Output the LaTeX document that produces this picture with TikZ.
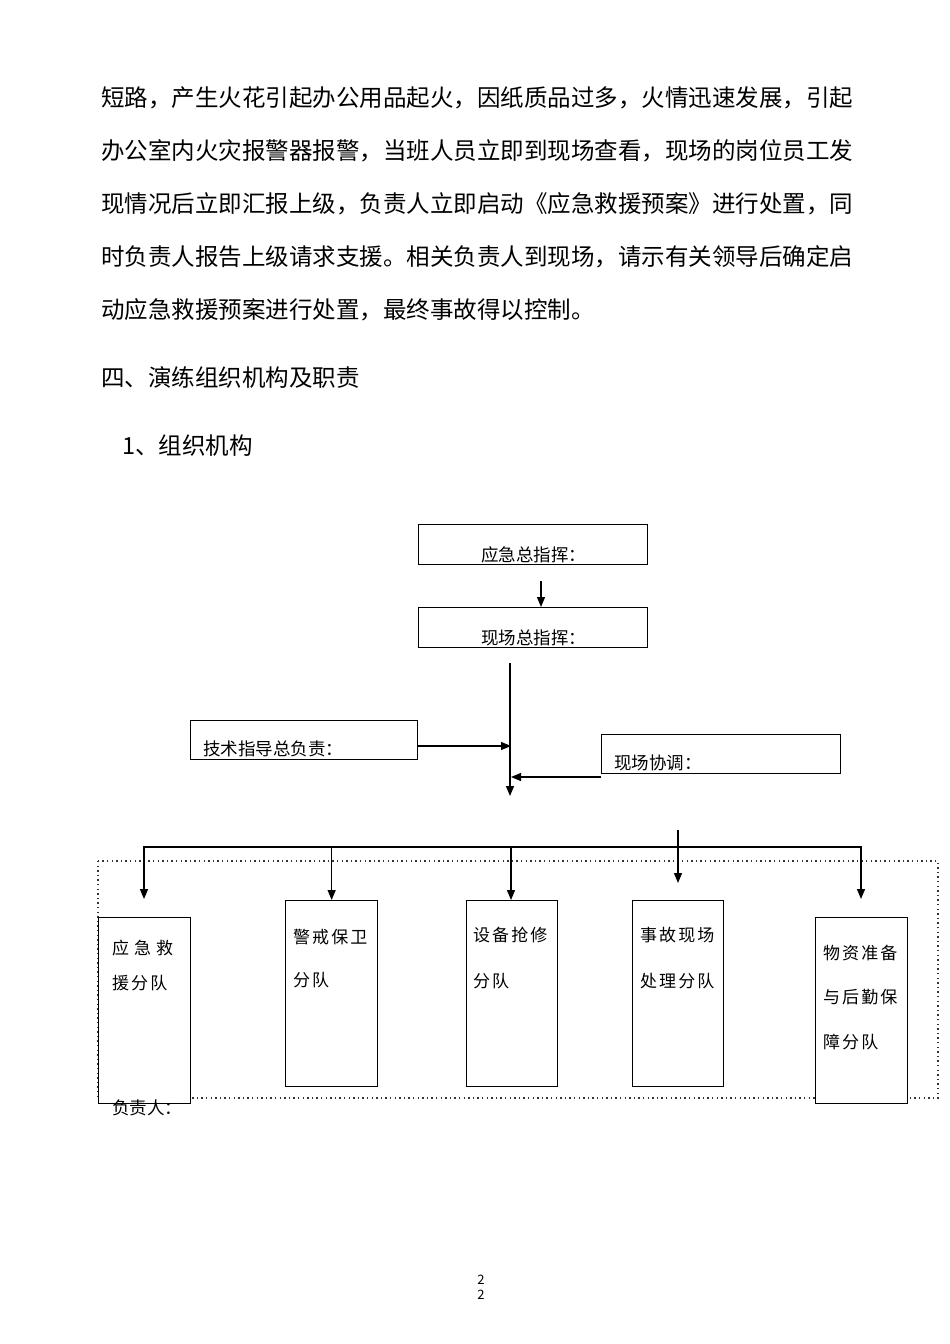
\documentclass[tikz,border=0pt]{standalone}
\usepackage{fontspec}
\setmainfont{Noto Sans CJK SC}
\newfontfamily\cjkwide{Noto Sans CJK SC}[LetterSpace=12]
\usetikzlibrary{arrows.meta}
\begin{document}
\begin{tikzpicture}[x=1pt,y=-1pt,
  body/.style={anchor=base west, inner sep=0pt, font=\fontsize{23.5}{28}\selectfont},
  box/.style={draw, line width=1.3pt, fill=white, inner sep=0pt, anchor=north west},
  lbl/.style={anchor=base west, inner sep=0pt, font=\fontsize{17.5}{20}\selectfont},
  sub/.style={anchor=base west, inner sep=0pt, font=\cjkwide\fontsize{17}{20}\selectfont},
  arr/.style={line width=1.3pt, -{Triangle[width=8pt,length=10pt]}},
  arrb/.style={line width=1.3pt, {Triangle[width=8pt,length=10pt]}-{Triangle[width=8pt,length=10pt]}},
  pg/.style={inner sep=0pt, font=\fontsize{13}{15}\selectfont}]
\useasboundingbox (0,0) rectangle (950,1344);

% body text
\node[body] (l1) at (101,106) {短路，产生火花引起办公用品起火，因纸质品过多，火情迅速发展，引起};
\node[body] (l2) at (101,159) {办公室内火灾报警器报警，当班人员立即到现场查看，现场的岗位员工发};
\node[body] (l3) at (101,212) {现情况后立即汇报上级，负责人立即启动《应急救援预案》进行处置，同};
\node[body] (l4) at (101,265) {时负责人报告上级请求支援。相关负责人到现场，请示有关领导后确定启};
\node[body] (l5) at (101,318) {动应急救援预案进行处置，最终事故得以控制。};
\node[body] (h4) at (101,386) {四、演练组织机构及职责};
\node[body] (h41) at (122,454) {1、组织机构};

% top boxes
\node[box, minimum width=229pt, minimum height=40pt] (b1) at (418,524) {};
\node[lbl] (b1t) at (481,561) {应急总指挥：};
\node[box, minimum width=229pt, minimum height=40pt] (b2) at (418,607) {};
\node[lbl] (b2t) at (481,644) {现场总指挥：};
\node[box, minimum width=227pt, minimum height=39pt] (b3) at (190,720) {};
\node[lbl] (b3t) at (203,755) {技术指导总负责：};
\node[box, minimum width=239pt, minimum height=39pt] (b4) at (601,734) {};
\node[lbl] (b4t) at (614,769) {现场协调：};

\coordinate (a1s) at (541,581);
\draw[arr] (a1s) -- (a1s |- b2.north);

\coordinate (vtop) at (510,663);
\coordinate (vbot) at (510,796);
\draw[arr] (vtop) -- (vbot);

\coordinate (y746) at (0,746);
\coordinate (y776) at (0,777);
\coordinate (vx) at (511,0);
\draw[arr] (b3.east |- y746) -- (vx |- y746);
\draw[arr] (b4.west |- y776) -- (vx |- y776);

% dotted frame
\draw[black!80, line width=1.3pt, dash pattern=on 1.4pt off 3.2pt] (98,861) rectangle (938,1098);

% sub-team boxes
\node[box, minimum width=92pt, minimum height=186pt] (s1) at (98,917) {};
\node[box, minimum width=92pt, minimum height=186pt] (s2) at (285,900) {};
\node[box, minimum width=91pt, minimum height=186pt] (s3) at (466,900) {};
\node[box, minimum width=91pt, minimum height=186pt] (s4) at (632,900) {};
\node[box, minimum width=92pt, minimum height=186pt] (s5) at (815,917) {};

\node[sub] (s1a) at (112,954.5) {应\hspace{5pt}急\hspace{5pt}救};
\node[sub] (s1b) at (112,989.5) {援分队};
\node[sub] (s2a) at (293,943.5) {警戒保卫};
\node[sub] (s2b) at (293,986.5) {分队};
\node[sub] (s3a) at (473,941.5) {设备抢修};
\node[sub] (s3b) at (473,987.5) {分队};
\node[sub] (s4a) at (640,941.5) {事故现场};
\node[sub] (s4b) at (640,987.5) {处理分队};
\node[sub] (s5a) at (823,959.5) {物资准备};
\node[sub] (s5b) at (823,1003.5) {与后勤保};
\node[sub] (s5c) at (823,1048.5) {障分队};
\node[lbl, font=\fontsize{17.5}{20}\selectfont] (fz) at (112,1114) {负责人：};

% bus and arrows
\coordinate (busL) at (144,847);
\coordinate (busR) at (861,847);
\coordinate (tipy) at (0,899);
\draw[arrb] (busL |- tipy) -- (busL) -- (busR) -- (busR |- tipy);
\draw[arr] (s2.north |- busL) -- (s2.north);
\draw[arr] (vx |- busL) -- (vx |- s3.north);
\coordinate (s4top) at (678,830);
\coordinate (s4tip) at (678,883);
\draw[arr] (s4top) -- (s4tip);

% page number
\node[pg] (p1) at (481,1280) {2};
\node[pg] (p2) at (481,1295) {2};
\end{tikzpicture}
\end{document}
